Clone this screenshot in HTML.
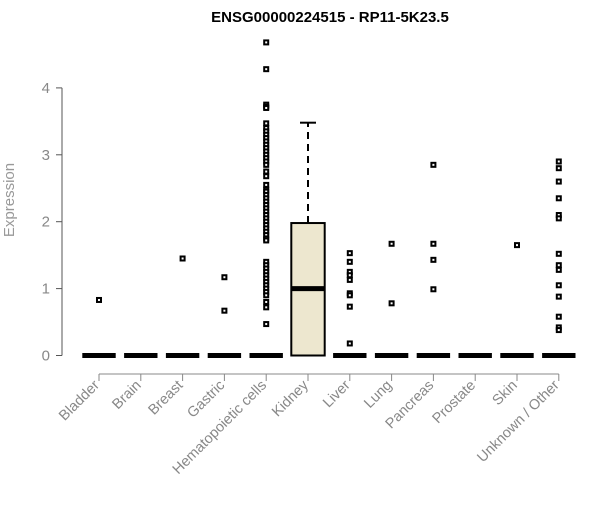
<!DOCTYPE html>
<html><head><meta charset="utf-8"><style>
body{margin:0;background:#fff}
svg{font-family:"Liberation Sans",Arial,sans-serif}
</style></head><body>
<svg id="c" width="600" height="500" xmlns="http://www.w3.org/2000/svg">
<text x="330" y="22" text-anchor="middle" font-weight="bold" font-size="15">ENSG00000224515 - RP11-5K23.5</text>
<text transform="translate(14,200) rotate(-90)" text-anchor="middle" font-size="15" fill="#999">Expression</text>
<g id="g"></g>
</svg>
<script>
const categories=["Bladder","Brain","Breast","Gastric","Hematopoietic cells","Kidney","Liver","Lung","Pancreas","Prostate","Skin","Unknown / Other"];
const medians=[0,0,0,0,0,1,0,0,0,0,0,0];
const q1=[0,0,0,0,0,0,0,0,0,0,0,0];
const q3=[0,0,0,0,0,1.98,0,0,0,0,0,0];
const whiskerHi=[0,0,0,0,0,3.48,0,0,0,0,0,0];
const outliers=[[0.83],[],[1.45],[1.17,0.67],
[4.68,4.28,3.75,3.72,3.7,3.47,3.4,3.35,3.3,3.25,3.2,3.15,3.1,3.05,3.0,2.95,2.9,2.85,2.75,2.68,2.55,2.48,2.45,2.4,2.35,2.3,2.25,2.2,2.15,2.1,2.05,2.0,1.95,1.9,1.85,1.8,1.75,1.72,1.4,1.35,1.3,1.25,1.2,1.15,1.1,1.05,1.0,0.95,0.9,0.8,0.72,0.47],
[],[1.53,1.4,1.25,1.2,1.13,0.93,0.9,0.73,0.18],[1.67,0.78],[2.85,1.67,1.43,0.99],[],[1.65],
[2.9,2.8,2.6,2.35,2.1,2.05,1.52,1.35,1.28,1.05,0.88,0.58,0.42,0.38]];
const yTicks=[0,1,2,3,4];
const NS="http://www.w3.org/2000/svg";
const g=document.getElementById('g');
const X=i=>99+41.8*i;
const Y=v=>355.5-66.9*v;
function mk(t,a){const e=document.createElementNS(NS,t);for(const k in a)e.setAttribute(k,a[k]);g.appendChild(e);return e;}
let e=mk('line',{x1:62,y1:Y(0),x2:62,y2:Y(4),stroke:'#555'});


yTicks.forEach(t=>{
 let l=mk('line',{x1:56,x2:62,y1:Y(t),y2:Y(t),stroke:'#555'});
 
 
 let tx=mk('text',{x:50,y:Y(t)+5,'text-anchor':'end','font-size':15,fill:'#888'});tx.textContent=t;
 
 
});
e=mk('line',{x1:X(0),x2:X(11),y1:374,y2:374,stroke:'#888'});


categories.forEach((c,i)=>{
 const x=X(i),hw=16.7;
 let l=mk('line',{x1:x,x2:x,y1:374,y2:381,stroke:'#888'});
 
 
 let t=mk('text',{transform:`translate(${x+1},386) rotate(-45)`,'text-anchor':'end','font-size':14.5,fill:'#888'});t.textContent=c;
 
 
 if(q3[i]>q1[i]){
  let w=mk('line',{x1:x,x2:x,y1:Y(q3[i]),y2:Y(whiskerHi[i]),stroke:'#000','stroke-width':2,'stroke-dasharray':'7,5'});
  
  
  let cap=mk('line',{x1:x-8,x2:x+8,y1:Y(whiskerHi[i]),y2:Y(whiskerHi[i]),stroke:'#000','stroke-width':2});
  
  
  let b=mk('rect',{x:x-hw,y:Y(q3[i]),width:2*hw,height:Y(q1[i])-Y(q3[i]),fill:'#ede7cf',stroke:'#000','stroke-width':2});
  
  
 }
 let m=mk('line',{x1:x-hw,x2:x+hw,y1:Y(medians[i]),y2:Y(medians[i]),stroke:'#000','stroke-width':5});
 
 
 outliers[i].forEach(v=>{
  let p=mk('rect',{x:x-2,y:Y(v)-2,width:4,height:4,fill:'#fff',stroke:'#000','stroke-width':2});
  
  
 });
});
</script>
</body></html>
